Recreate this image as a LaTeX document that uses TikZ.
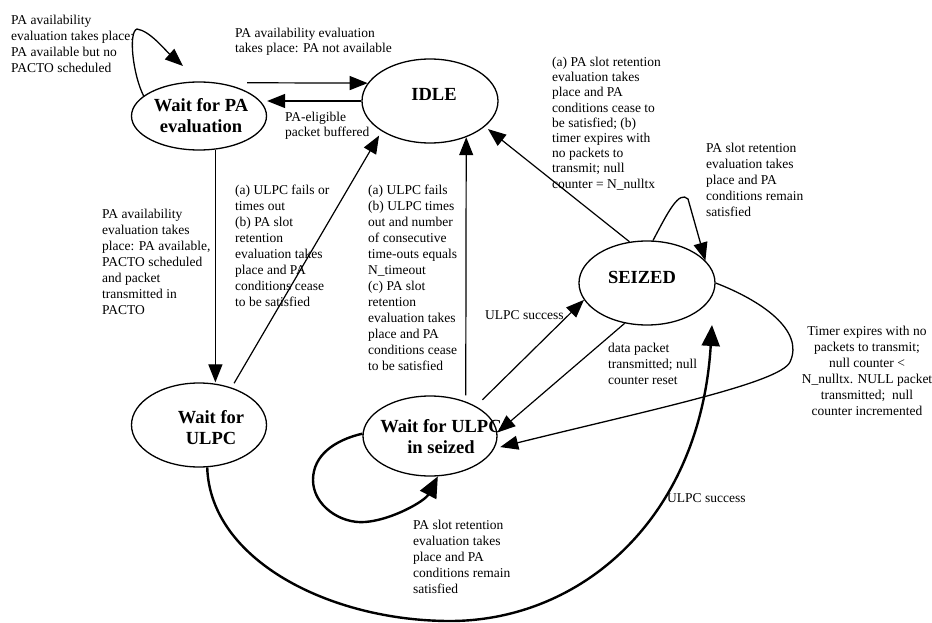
\documentclass[tikz,border=0pt]{standalone}
\usepackage{fontspec}
\setmainfont{Liberation Serif}
\usetikzlibrary{arrows.meta,shapes.geometric,calc}
\begin{document}
\begin{tikzpicture}[x=1pt,y=-1pt,
  state/.style={draw, ellipse, line width=1.3pt, inner sep=0pt},
  stxt/.style={font=\fontsize{18.5}{21}\selectfont\bfseries, align=center, inner sep=0pt},
  lbl/.style={font=\fontsize{13.5}{16}\selectfont, align=left, anchor=north west, inner sep=0pt},
  edge/.style={line width=1.2pt, -{Triangle[length=18pt,width=14pt]}},
  heavyedge/.style={line width=2.4pt, -{Triangle[length=21pt,width=18pt]}}
]
\fill[white] (0,0) rectangle (932,623);
\useasboundingbox (0,0) rectangle (932,623);

% states
\node[state, minimum width=135pt, minimum height=68pt] (wpa) at (199,116) {};
\node[stxt] (wpaT) at (201,116) {Wait for PA\\evaluation};
\node[state, minimum width=136pt, minimum height=84pt] (idle) at (430,101) {};
\node[stxt] (idleT) at (434,94) {IDLE};
\node[state, minimum width=136pt, minimum height=84pt] (seized) at (647,283) {};
\node[stxt] (seizedT) at (642,277) {SEIZED};
\node[state, minimum width=135pt, minimum height=84pt] (wulpc) at (199,425) {};
\node[stxt] (wulpcT) at (211,428) {Wait for\\ULPC};
\node[state, minimum width=134pt, minimum height=80pt] (wseized) at (430,436) {};
\node[stxt] (wseizedT) at (441,437) {Wait for ULPC\\in seized};

% labels
\node[lbl] (t1) at (11,15) {PA availability\\evaluation takes place:\\PA available but no\\PACTO scheduled};
\node[lbl, font=\fontsize{13.5}{15}\selectfont] (t2) at (235,28) {PA availability evaluation\\takes place: PA not available};
\node[lbl, font=\fontsize{13.5}{14.5}\selectfont] (t3) at (285,112) {PA-eligible\\packet buffered};
\node[lbl] (t4) at (102,209) {PA availability\\evaluation takes\\place: PA available,\\PACTO scheduled\\and packet\\transmitted in\\PACTO};
\node[lbl] (t5) at (235,185) {(a) ULPC fails or\\times out\\(b) PA slot\\retention\\evaluation takes\\place and PA\\conditions cease\\to be satisfied};
\node[lbl] (t6) at (368,185) {(a) ULPC fails\\(b) ULPC times\\out and number\\of consecutive\\time-outs equals\\N\_timeout\\(c) PA slot\\retention\\evaluation takes\\place and PA\\conditions cease\\to be satisfied};
\node[lbl, font=\fontsize{13.5}{15.2}\selectfont] (t7) at (552,57) {(a) PA slot retention\\evaluation takes\\place and PA\\conditions cease to\\be satisfied; (b)\\timer expires with\\no packets to\\transmit; null\\counter = N\_nulltx};
\node[lbl] (t8) at (706,143) {PA slot retention\\evaluation takes\\place and PA\\conditions remain\\satisfied};
\node[lbl] (t9) at (485,310) {ULPC success};
\node[lbl] (t10) at (608,343) {data packet\\transmitted; null\\counter reset};
\node[lbl, align=center, anchor=north] (t11) at (867,326) {Timer expires with no\\packets to transmit;\\null counter <\\N\_nulltx. NULL packet\\transmitted;\ \ null\\counter incremented};
\node[lbl] (t12) at (413,520) {PA slot retention\\evaluation takes\\place and PA\\conditions remain\\satisfied};
\node[lbl] (t13) at (667,493) {ULPC success};

% connectors
\coordinate (e1end) at (183,66);
\draw[edge, line width=1.3pt] (wpa.160) .. controls (133,75) and (128,32) .. (137,29) .. controls (150,31) and (165,50) .. (e1end);
\draw[edge] ($(wpa.60)+(29,0)$) -- (idle.164);
\draw[edge] (idle.west) -- (wpa.east |- idle.west);
\draw[edge] (wpa.-64) -- (wpa.-64 |- wulpc.north);
\draw[edge, shorten <=5pt, shorten >=5pt] (wulpc.49) -- (idle.212);
\draw[edge, shorten <=6pt] (wseized.44) -- (idle.-45);
\draw[edge, shorten >=4pt] (seized.113) -- (idle.-25);
\draw[edge, line width=1.3pt] (seized.82) .. controls (668,212) and (679,190) .. (688,199) -- (seized.21);
\draw[edge, shorten <=9pt] (wseized.33) -- (seized.195);
\draw[edge] (seized.-119) -- (wseized.3);
\draw[edge, line width=1.3pt, shorten >=6pt] (seized.east) .. controls (760,300) and (805,330) .. (790,362) .. controls (780,383) and (650,410) .. (wseized.-11);
\draw[heavyedge] (wseized.178) .. controls (335,440) and (313,455) .. (313,480) .. controls (313,505) and (340,524) .. (365,522) .. controls (392,520) and (425,501) .. (wseized.-79);
\coordinate (e13end) at (712,325);
\draw[heavyedge] (wulpc.-79) .. controls (210,560) and (330,621) .. (450,621) .. controls (580,621) and (700,520) .. (e13end);
\end{tikzpicture}
\end{document}
